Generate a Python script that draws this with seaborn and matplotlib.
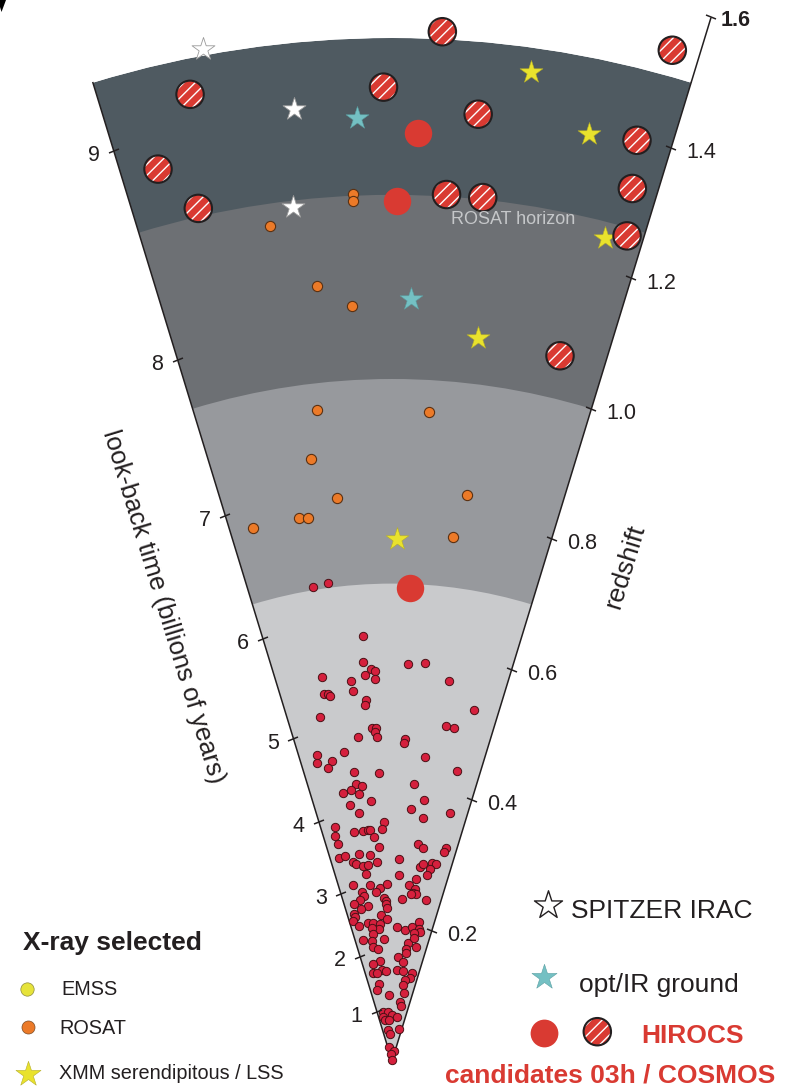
import numpy as np
import matplotlib
matplotlib.use("Agg")
import matplotlib.pyplot as plt
from matplotlib.markers import MarkerStyle
from matplotlib.transforms import Affine2D
import seaborn as sns

sns.set_style("white")
plt.rcParams["font.family"] = ["Liberation Sans", "DejaVu Sans"]
plt.rcParams["hatch.linewidth"] = 1.0
plt.rcParams["hatch.color"] = "white"

# ---------------------------------------------------------------- geometry
W, H, DPI = 788, 1090, 100
HALF_ANGLE = 17.0          # opening half-angle of the cone (deg)
Z_MAX = 1.5                # outer edge of the shaded cone
Z_AXIS_END = 1.6           # redshift axis runs a little past the cone
PX_PER_Z = 682.0
APEX = (392.0, 1061.0)     # apex of the cone in figure pixels (from top-left)

# redshift shells: outer edges and fill colours
shell_edges = [0.0, 0.70, 1.00, 1.27, 1.50]
shell_colors = ["#c9cacc", "#97999d", "#6d7074", "#4f5a61"]

# axis ticks
redshift_ticks = [0.2, 0.4, 0.6, 0.8, 1.0, 1.2, 1.4, 1.6]
lookback_ticks = [1, 2, 3, 4, 5, 6, 7, 8, 9]      # Gyr

# flat LCDM used for the look-back time scale
H0, OMEGA_M = 70.0, 0.3

# ---------------------------------------------------------------- data
# azimuth inside the cone (deg, + to the right) and redshift
cluster_az = [-3.9, -4.1, -3.1, -2.5, -4.0, -2.5, 2.3, 4.7, -10.3, -6.1,
              -6.0, 8.5, -10.5, -9.9, -9.6, -4.1, -4.3, 13.1, -11.9, 9.1,
              10.5, -3.5, -2.7, -3.0, -2.7, -6.0, 2.3, 2.2, -13.7, -14.2,
              -11.4, -12.3, -8.8, 6.1, -7.5, -2.5, 12.7, 4.6, -7.5, -6.2,
              -8.5, -7.1, -10.3, -4.7, -9.3, 7.1, 4.4, 13.2, -7.5, 7.3,
              -1.9, -2.4, -13.7, -9.4, -7.3, -6.0, -5.4, -14.3, -4.5, -14.0,
              -3.4, 6.8, 8.2, 14.2, 14.0, -14.6, -12.9, -9.2, -6.1, -11.0,
              -10.4, -8.6, -6.9, -4.4, -8.0, 2.0, 8.2, 8.9, 11.3, 12.6,
              11.2, 10.5, 2.2, 7.6, -12.6, -7.1, -4.0, -1.7, -5.4, 5.6,
              7.7, 7.2, 8.2, 6.5, -10.0, -9.6, -11.2, -13.5, -2.7, -2.3,
              -2.3, 3.4, 11.8, -8.7, -11.5, -1.8, -14.4, -14.4, -15.4, -4.3,
              -1.9, -9.7, -7.9, -5.0, -5.6, -8.7, -13.6, 2.0, 5.7, 8.6,
              11.0, 11.7, 12.2, 9.9, -8.6, -13.6, -9.6, -3.8, 7.6, 10.3,
              11.9, 7.1, -9.6, -7.0, -6.8, -10.9, -6.1, -12.3, -9.5, -4.0,
              3.5, 7.4, 6.1, 3.3, 6.8, 13.0, 12.1, 9.1, 8.4, -9.5,
              -12.0, -2.6, 10.3, 7.8, 9.2, -10.0, -4.3, -0.4, 6.1, -11.9,
              -9.7, -4.2, -6.8, -4.2, 13.0, -10.7, 11.3, -8.1, 0.0, -9.5,
              -7.6]
cluster_z = [0.625, 0.587, 0.576, 0.573, 0.568, 0.560, 0.582, 0.585, 0.573, 0.561,
             0.546, 0.563, 0.548, 0.546, 0.543, 0.530, 0.523, 0.529, 0.515, 0.498,
             0.496, 0.489, 0.489, 0.483, 0.475, 0.477, 0.472, 0.466, 0.462, 0.451,
             0.448, 0.439, 0.459, 0.449, 0.427, 0.423, 0.436, 0.408, 0.409, 0.406,
             0.402, 0.395, 0.399, 0.382, 0.381, 0.385, 0.370, 0.374, 0.367, 0.359,
             0.351, 0.341, 0.353, 0.341, 0.340, 0.340, 0.340, 0.340, 0.329, 0.328,
             0.314, 0.320, 0.316, 0.322, 0.316, 0.308, 0.308, 0.307, 0.304, 0.297,
             0.293, 0.289, 0.289, 0.292, 0.277, 0.296, 0.288, 0.292, 0.296, 0.296,
             0.287, 0.278, 0.273, 0.269, 0.264, 0.260, 0.255, 0.259, 0.249, 0.259,
             0.255, 0.249, 0.247, 0.246, 0.252, 0.246, 0.240, 0.237, 0.239, 0.235,
             0.231, 0.238, 0.241, 0.230, 0.228, 0.224, 0.223, 0.218, 0.213, 0.214,
             0.208, 0.205, 0.204, 0.201, 0.195, 0.197, 0.203, 0.197, 0.193, 0.198,
             0.208, 0.197, 0.194, 0.190, 0.189, 0.182, 0.179, 0.179, 0.175, 0.183,
             0.171, 0.165, 0.169, 0.165, 0.148, 0.145, 0.134, 0.132, 0.131, 0.132,
             0.153, 0.160, 0.146, 0.133, 0.133, 0.132, 0.125, 0.120, 0.113, 0.115,
             0.107, 0.097, 0.101, 0.087, 0.082, 0.073, 0.072, 0.067, 0.065, 0.066,
             0.061, 0.060, 0.046, 0.040, 0.048, 0.021, 0.015, 0.010, 0.002, 0.705,
             0.707]

rosat_az = [-8.3, -2.6, -2.6, -5.5, -3.0, -6.6, 3.3, -7.7, -5.6, 7.5, -9.7, -8.8, -14.6, 6.6]
rosat_z = [1.238, 1.272, 1.263, 1.141, 1.108, 0.961, 0.953, 0.891, 0.830, 0.837,
           0.807, 0.805, 0.808, 0.774]

xmm_az = [8.0, 12.0, 14.5, 6.8, 0.5]
xmm_z = [1.464, 1.390, 1.246, 1.067, 0.766]

optir_az = [-2.1, 1.4]
optir_z = [1.383, 1.117]

spitzer_az = [-10.6, -5.9, -6.6]
spitzer_z = [1.509, 1.403, 1.260]

hirocs_az = [1.6, 0.3, 2.2]
hirocs_z = [1.361, 1.261, 0.694]

candidate_az = [2.8, 15.5, -11.8, -0.5, 5.2, 14.9, -14.7, 15.4, -12.8, 3.6, 6.0, 15.9, 13.4]
candidate_z = [1.511, 1.538, 1.448, 1.428, 1.394, 1.397, 1.352, 1.327, 1.282,
               1.273, 1.273, 1.258, 1.063]

# ---------------------------------------------------------------- colours
INK = "#231f20"
RED = "#d93a32"
CLUSTER_RED = "#d5203d"
ORANGE = "#ec7a28"
YELLOW = "#e9e22d"
CYAN = "#74c0c3"
HATCH = "///"


def redshift_at_lookback(t_gyr):
    zg = np.linspace(0.0, 3.0, 6001)
    ez = np.sqrt(OMEGA_M * (1 + zg) ** 3 + 1 - OMEGA_M)
    f = 1.0 / ((1 + zg) * ez)
    tl = (977.8 / H0) * np.concatenate([[0.0], np.cumsum(0.5 * (f[1:] + f[:-1]) * np.diff(zg))])
    return np.interp(t_gyr, tl, zg)


def rad(a):
    return np.deg2rad(np.asarray(a, dtype=float))


fig = plt.figure(figsize=(W / DPI, H / DPI), dpi=DPI)
R_PX = Z_MAX * PX_PER_Z
ax = fig.add_axes([(APEX[0] - R_PX / 2) / W, (H - APEX[1]) / H, R_PX / W, R_PX / H],
                  projection="polar")
ax.set_theta_zero_location("N")
ax.set_theta_direction(-1)
ax.set_thetamin(-HALF_ANGLE)
ax.set_thetamax(HALF_ANGLE)
ax.set_facecolor("none")

# shaded shells, outermost first so that no seams show between them
cone_width = np.deg2rad(2 * HALF_ANGLE)
for outer, color in sorted(zip(shell_edges[1:], shell_colors), reverse=True):
    ax.bar(0.0, outer, width=cone_width, bottom=0.0, color=color,
           linewidth=0, align="center", zorder=0.5)

common = dict(ax=ax, legend=False, clip_on=False)
sns.scatterplot(x=rad(cluster_az), y=cluster_z, s=36, color=CLUSTER_RED,
                edgecolor="#4a1015", linewidth=0.7, zorder=3, **common)
sns.scatterplot(x=rad(rosat_az), y=rosat_z, s=54, color=ORANGE,
                edgecolor="#5b3112", linewidth=0.8, zorder=3, **common)
sns.scatterplot(x=rad(xmm_az), y=xmm_z, marker="*", s=300, color=YELLOW,
                edgecolor="#b5ae28", linewidth=0.4, zorder=3, **common)
sns.scatterplot(x=rad(optir_az), y=optir_z, marker="*", s=300, color=CYAN,
                edgecolor="#5a9fa2", linewidth=0.4, zorder=3, **common)
sns.scatterplot(x=rad(spitzer_az), y=spitzer_z, marker="*", s=300, color="white",
                edgecolor="#9a9a9a", linewidth=0.6, zorder=3, **common)
sns.scatterplot(x=rad(hirocs_az), y=hirocs_z, s=390, color=RED,
                edgecolor=RED, linewidth=0, zorder=3, **common)
sns.scatterplot(x=rad(candidate_az), y=candidate_z, s=390, color=RED,
                edgecolor="white", linewidth=0, hatch=HATCH, zorder=3, **common)
sns.scatterplot(x=rad(candidate_az), y=candidate_z, s=390, facecolor="none",
                edgecolor=INK, linewidth=1.5, zorder=3.1, **common)

ax.set_ylim(0, Z_MAX)
ax.set_xticks([])
ax.set_yticks([])
ax.grid(False)
ax.set_xlabel("")
ax.set_ylabel("")
ax.spines["polar"].set_visible(False)
ax.spines["inner"].set_visible(False)
for key in ("start", "end"):
    ax.spines[key].set_color(INK)
    ax.spines[key].set_linewidth(1.1)

# redshift axis continues beyond the shaded cone
ax.plot(rad([HALF_ANGLE, HALF_ANGLE]), [Z_MAX, Z_AXIS_END], color=INK, lw=1.1,
        clip_on=False, solid_capstyle="butt", zorder=4)


def edge_tick(theta, r, label, side, weight="normal", dist=None):
    rot = HALF_ANGLE if side == "left" else -HALF_ANGLE
    mk = MarkerStyle("_", transform=Affine2D().rotate_deg(rot))
    ax.plot(rad([theta]), [r], linestyle="none", marker=mk, markersize=8,
            markeredgewidth=1.1, color=INK, clip_on=False, zorder=4)
    ang = np.deg2rad(180 + HALF_ANGLE) if side == "left" else np.deg2rad(-HALF_ANGLE)
    d = dist if dist is not None else (15 if side == "left" else 16)
    ax.annotate(label, xy=(np.deg2rad(theta), r),
                xytext=(d * np.cos(ang), d * np.sin(ang)), textcoords="offset pixels",
                ha="right" if side == "left" else "left", va="center",
                fontsize=15.5, fontweight=weight, color=INK, annotation_clip=False)


for t, zt in zip(lookback_ticks, redshift_at_lookback(np.array(lookback_ticks, float))):
    edge_tick(-HALF_ANGLE, zt, str(t), "left")
for zt in redshift_ticks:
    if zt == Z_AXIS_END:
        edge_tick(HALF_ANGLE, zt, f"{zt:.1f}", "right", weight="bold", dist=10)
    else:
        edge_tick(HALF_ANGLE, zt, f"{zt:.1f}", "right")

# ---------------------------------------------------------------- annotations
ov = fig.add_axes([0, 0, 1, 1], zorder=5)
ov.set_xlim(0, W)
ov.set_ylim(H, 0)
ov.axis("off")

ov.fill([0, 6, 1.5, 0], [0, 0, 12, 7], color="black", lw=0)

ov.text(163, 607, "look-back time (billions of years)", rotation=-73,
        rotation_mode="anchor", ha="center", va="center", fontsize=18.5, color=INK)
ov.text(625, 567, "redshift", rotation=73, rotation_mode="anchor",
        ha="center", va="center", fontsize=19, color=INK)
ov.text(513, 220, "ROSAT horizon", ha="center", va="center", fontsize=13,
        color="#c5c7c9")

# X-ray selected key
ov.text(22.7, 950, "X-ray selected", fontsize=19, fontweight="bold", color=INK,
        va="baseline")
ov.scatter([27.3], [989], s=92, color="#e6e33a", edgecolor="#8c8a3a", linewidth=0.5)
ov.text(61, 995, "EMSS", fontsize=14.3, color=INK, va="baseline")
ov.scatter([27.7], [1027.3], s=88, color=ORANGE, edgecolor="#7a4a22", linewidth=0.5)
ov.text(59.3, 1034, "ROSAT", fontsize=14.3, color=INK, va="baseline")
ov.scatter([28.3], [1074], marker="*", s=360, color=YELLOW, edgecolor="#b5ae28",
           linewidth=0.4)
ov.text(59.3, 1079, "XMM serendipitous / LSS", fontsize=14.3, color=INK, va="baseline")

# other samples key
ov.scatter([548.3], [905], marker="*", s=450, color="white", edgecolor=INK, linewidth=1.0)
ov.text(571, 918.3, "SPITZER IRAC", fontsize=19, color=INK, va="baseline")
ov.scatter([544], [976.7], marker="*", s=360, color=CYAN, edgecolor="#5a9fa2", linewidth=0.4)
ov.text(579.3, 991.7, "opt/IR ground", fontsize=19, color=INK, va="baseline")
ov.scatter([544], [1032.7], s=400, color=RED, linewidth=0)
ov.scatter([597.3], [1031.7], s=390, color=RED, edgecolor="white", linewidth=0, hatch=HATCH)
ov.scatter([597.3], [1031.7], s=390, facecolor="none", edgecolor=INK, linewidth=1.5)
ov.text(641, 1042.7, "HIROCS", fontsize=19, fontweight="bold", color=RED, va="baseline")
ov.text(445, 1082.7, "candidates 03h / COSMOS", fontsize=19, fontweight="bold",
        color=RED, va="baseline")

fig.savefig("out.png", dpi=DPI)
